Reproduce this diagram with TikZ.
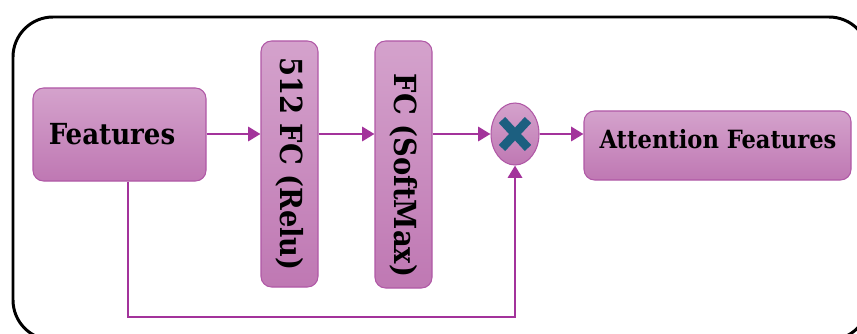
\documentclass[tikz,border=0pt]{standalone}
\usepackage{fontspec}
\setmainfont{DejaVu Serif Condensed}
\usetikzlibrary{shapes.geometric,arrows.meta}
\definecolor{boxtop}{HTML}{D4A2CC}
\definecolor{boxbot}{HTML}{BF78B3}
\definecolor{boxline}{HTML}{B058A6}
\definecolor{flow}{HTML}{A3339B}
\definecolor{cross}{HTML}{1C5F80}
\tikzset{
  block/.style={draw=boxline, line width=0.6pt, rounded corners=6pt, top color=boxtop, bottom color=boxbot, font=\bfseries\fontsize{17}{19}\selectfont, inner sep=0pt},
  vlabel/.style={rotate=-90, font=\bfseries\fontsize{17.3}{19}\selectfont},
  flowline/.style={draw=flow, line width=1.6pt, -{Triangle[length=7pt,width=8pt]}}
}
\begin{document}
\begin{tikzpicture}[x=0.02cm, y=-0.02cm]
    \useasboundingbox (0,0) rectangle (857,334);
    \draw[line width=1.7pt, rounded corners=0.8cm] (13,17) rectangle (869,340);
    \node[block, minimum width=173*0.02cm, minimum height=93*0.02cm] (feat) at (119.5,134.5) {};
    \node at (112,134) [font=\bfseries\fontsize{16.5}{19}\selectfont] {Features};
    \node[block, minimum width=57*0.02cm, minimum height=246*0.02cm] (fc1) at (289.5,164) {};
    \node[vlabel] at (fc1) {512 FC (Relu)};
    \node[block, minimum width=57*0.02cm, minimum height=247*0.02cm] (fc2) at (403.5,164.5) {};
    \node[vlabel] at (403.5,175.5) {FC (SoftMax)};
    \node[block, ellipse, minimum width=48*0.02cm, minimum height=62*0.02cm] (mul) at (515,134) {};
    \draw[cross, line width=5pt] (502,120)--(528,148) (502,148)--(528,120);
    \node[block, minimum width=267*0.02cm, minimum height=69*0.02cm] (att) at (717.5,145.5) {};
    \node[font=\bfseries\fontsize{14.3}{17}\selectfont] at (718,139) {Attention Features};
    % connectors
    \draw[flowline] (feat.east|-0,134) -- (fc1.west|-0,134);
    \draw[flowline] (fc1.east|-0,134) -- (fc2.west|-0,134);
    \draw[flowline] (fc2.east|-0,134) -- (mul.west);
    \draw[flowline] (mul.east) -- (att.west|-0,134);
    \coordinate (low) at (128,317);
    \draw[flowline] (feat.south-|low) -- (low) -| (mul.south);
\end{tikzpicture}
\end{document}
